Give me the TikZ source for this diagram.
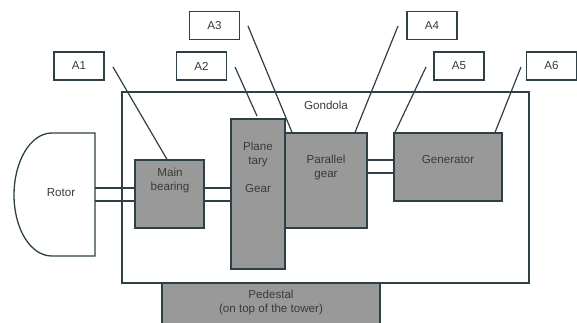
\documentclass[tikz,border=0pt]{standalone}
\usepackage{fontspec}
\setmainfont{Liberation Sans}
\definecolor{edge}{HTML}{2E4045}
\definecolor{boxfill}{HTML}{999999}
\definecolor{txt}{HTML}{3A3A3A}
\begin{document}
\begin{tikzpicture}[x=1pt,y=-1pt,
  comp/.style={draw=edge, fill=boxfill, line width=1.3pt, inner sep=0pt},
  tag/.style={draw=edge, fill=white, line width=1.3pt, inner sep=0pt,
    minimum width=50pt, minimum height=28pt, text=txt, font=\fontsize{11.6}{13}\selectfont},
  words/.style={text=txt, align=center, inner sep=0pt, font=\fontsize{11.6}{14}\selectfont},
  wire/.style={draw=edge, line width=1.3pt},
  lead/.style={draw=edge, line width=1.2pt}]
\useasboundingbox (0,0) rectangle (577,322);
% gondola frame
\node[draw=edge, line width=1.3pt, minimum width=407pt, minimum height=191pt, inner sep=0pt] (gon) at (325.5,187.5) {};
\node[words] (gonlbl) at (326,105) {Gondola};
% rotor
\draw[wire, fill=white] (95,133) -- (52,133) .. controls (30,133) and (14,162) .. (14,195)
  .. controls (14,228) and (30,256) .. (52,256) -- (95,256) -- cycle;
\node[words] (rotor) at (61,193) {Rotor};
% components
\node[comp, minimum width=69pt, minimum height=68pt] (mb) at (169.5,194) {};
\node[comp, minimum width=54pt, minimum height=150pt] (pg) at (258,194) {};
\node[comp, minimum width=82pt, minimum height=95pt] (par) at (326,180.5) {};
\node[comp, minimum width=108pt, minimum height=68pt] (gen) at (448,167) {};
\node[comp, minimum width=218pt, minimum height=50pt] (ped) at (271,308) {};
\node[words] (mbt) at (170,180) {Main\\bearing};
\node[words] (pgt) at (258,167) {Plane\\tary\\ \\Gear};
\node[words] (part) at (326,167) {Parallel\\gear};
\node[words] (gent) at (448,160) {Generator};
\node[words] (pedt) at (271,302) {Pedestal\\(on top of the tower)};
% shafts
\coordinate (r1) at (95,188); \coordinate (r2) at (95,201);
\draw[wire] (r1) -- (r1 -| mb.west);
\draw[wire] (r2) -- (r2 -| mb.west);
\draw[wire] (mb.east |- r1) -- (pg.west |- r1);
\draw[wire] (mb.east |- r2) -- (pg.west |- r2);
\coordinate (s1) at (367,160); \coordinate (s2) at (367,173);
\draw[wire] (s1) -- (s1 -| gen.west);
\draw[wire] (s2) -- (s2 -| gen.west);
% tags
\node[tag] (a1) at (79,66) {A1};
\node[tag] (a2) at (201.5,66) {A2};
\node[tag] (a3) at (214.5,25.5) {A3};
\node[tag] (a4) at (432,25.5) {A4};
\node[tag] (a5) at (459,66) {A5};
\node[tag] (a6) at (551.5,66) {A6};
% leaders
\coordinate (e1) at (113,67); \coordinate (e2) at (235,67); \coordinate (e3) at (248,26);
\coordinate (e4) at (398,26); \coordinate (e5) at (426,67); \coordinate (e6) at (521,67);
\draw[lead] (e1) -- (mb.north -| 167,0);
\draw[lead] (e2) -- (257,116);
\draw[lead] (e3) -- (par.north -| 292,0);
\draw[lead] (e4) -- (par.north -| 355,0);
\draw[lead] (e5) -- (gen.north -| 395,0);
\draw[lead] (e6) -- (gen.north -| 495,0);
\end{tikzpicture}
\end{document}
